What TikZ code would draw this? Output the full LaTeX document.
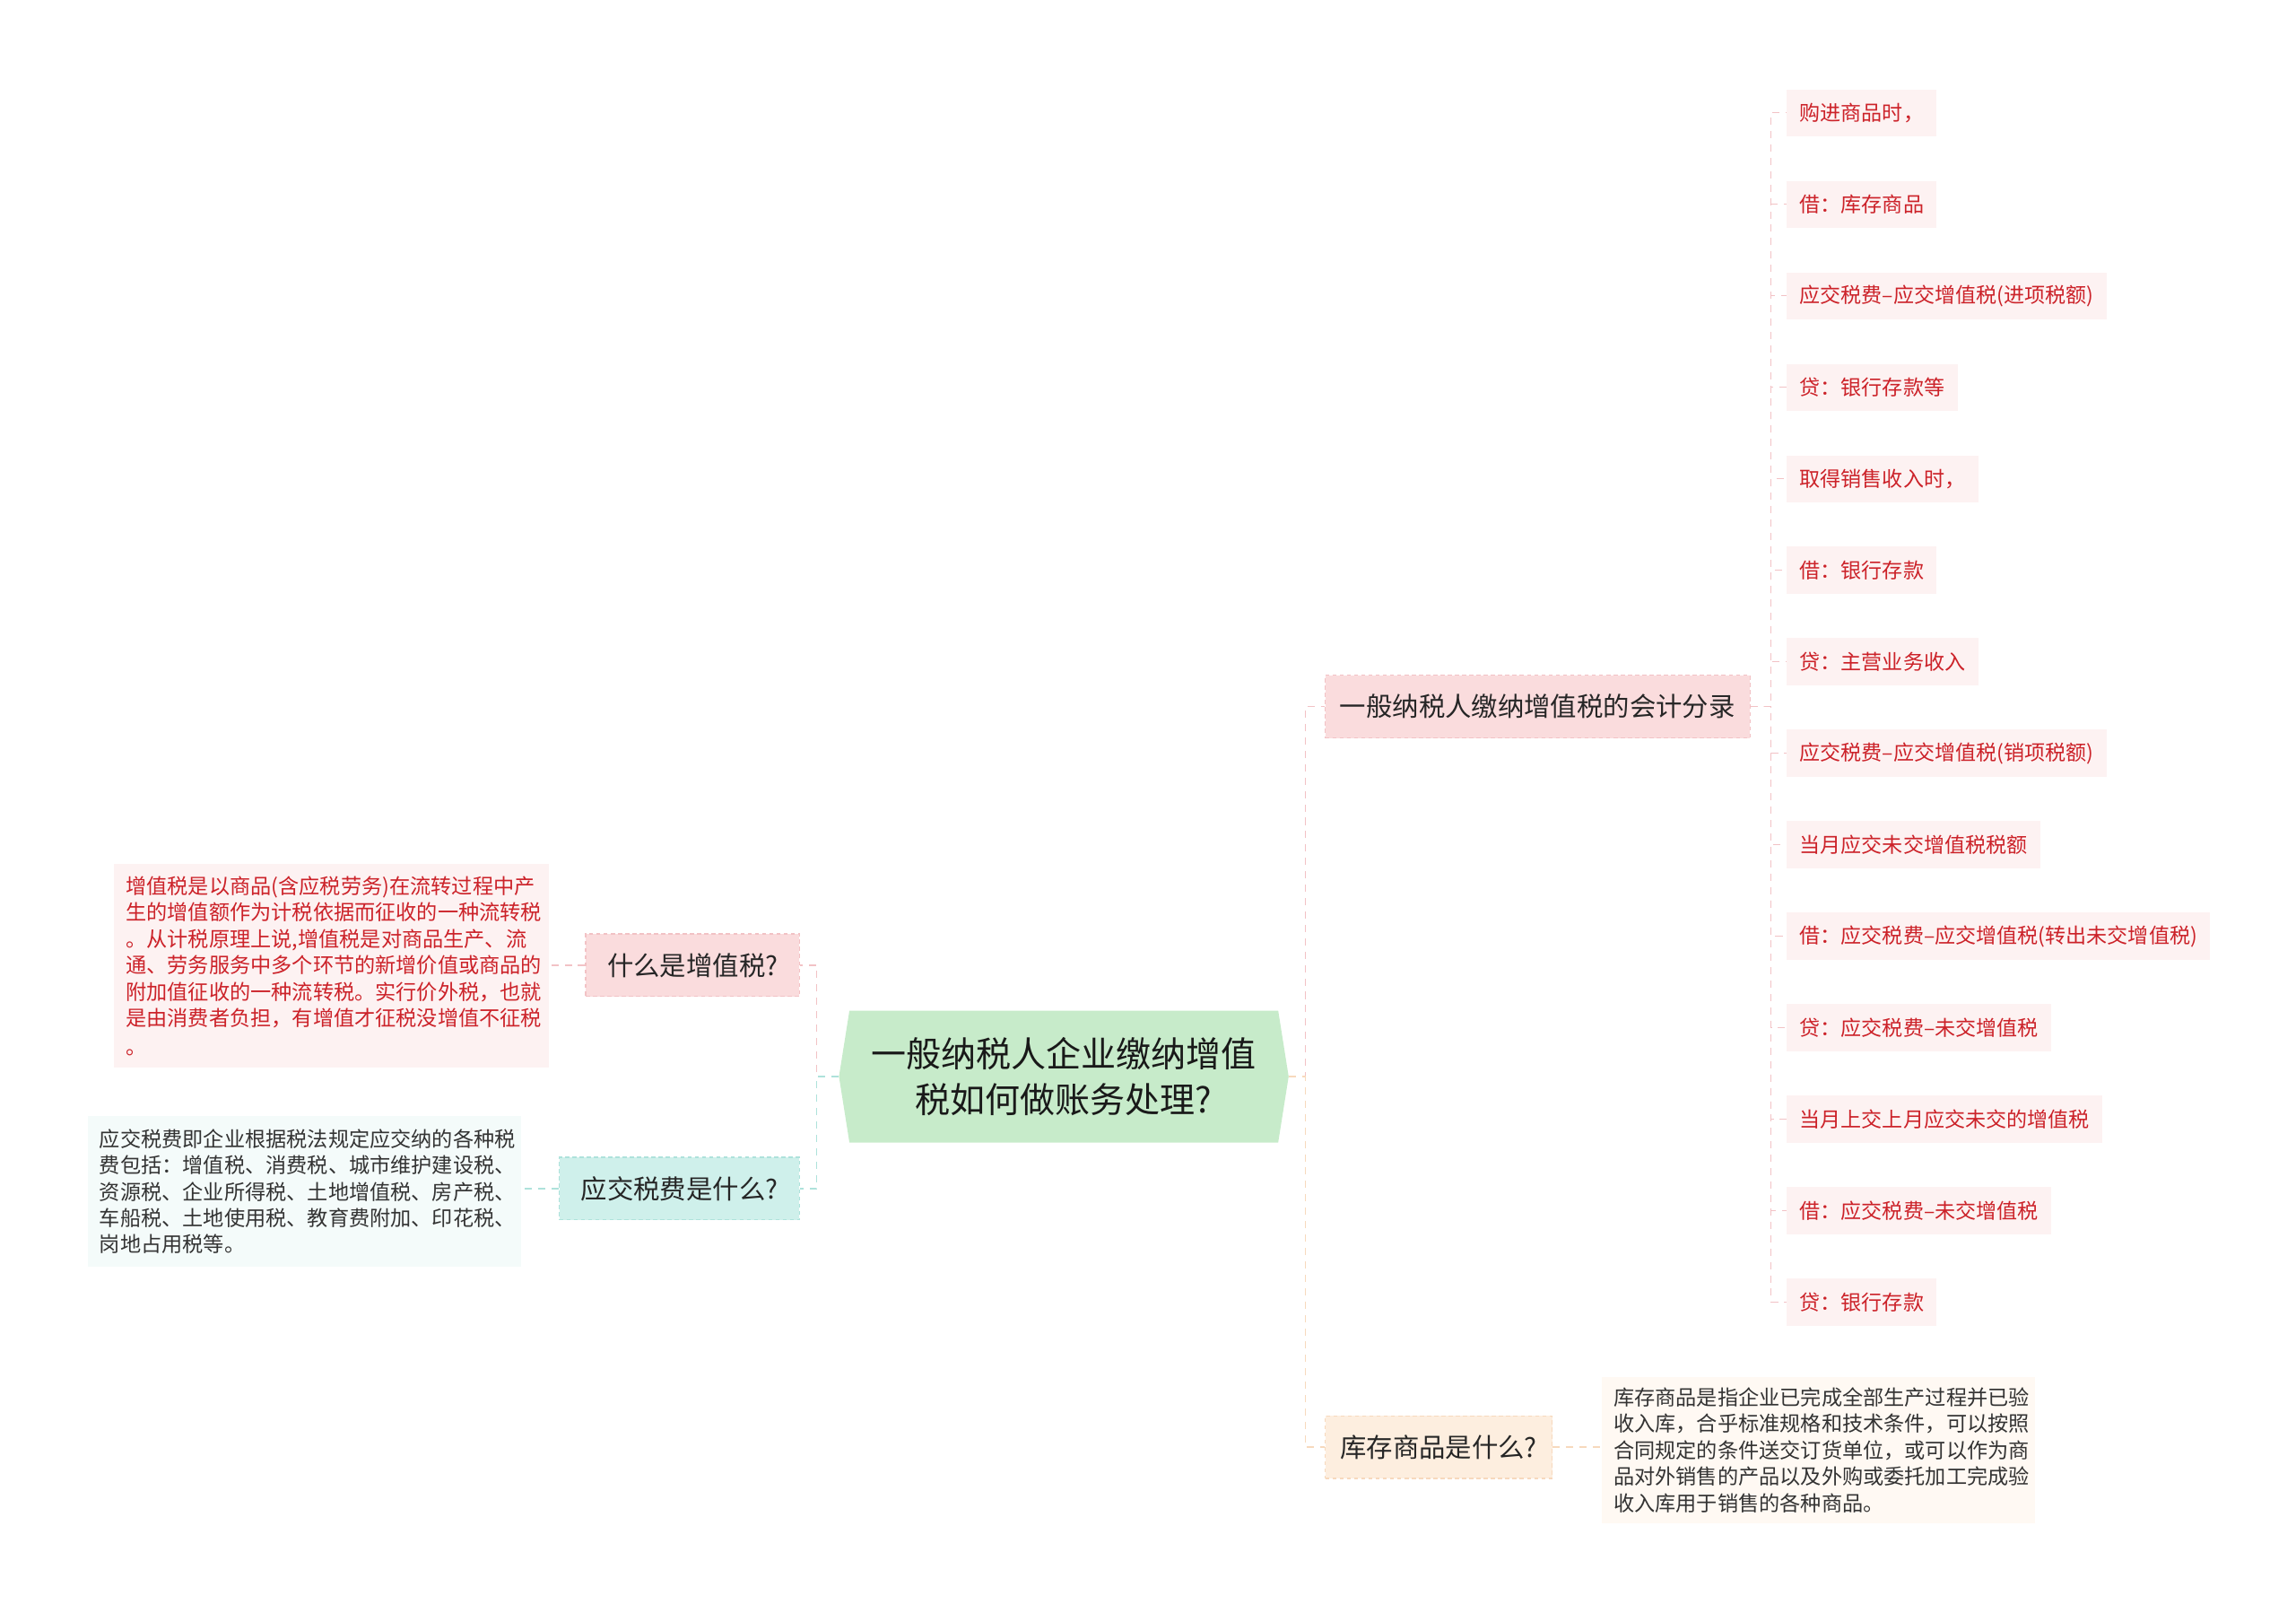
\documentclass[tikz,border=0pt]{standalone}
\usepackage{fontspec}
\setmainfont{Noto Sans CJK SC}
\usepackage{xcolor}
\usepackage{tikz}
\usetikzlibrary{shapes.symbols}

\definecolor{rootgreen}{HTML}{C7EBCA}
\definecolor{pinkfill}{HTML}{FADCDD}
\definecolor{pinkline}{HTML}{F2C2C5}
\definecolor{cyanfill}{HTML}{CFF0EB}
\definecolor{cyanline}{HTML}{AEE2DB}
\definecolor{peachfill}{HTML}{FDEEDF}
\definecolor{peachline}{HTML}{F7D9BD}
\definecolor{leafpink}{HTML}{FDF2F2}
\definecolor{notecyan}{HTML}{F4FBFA}
\definecolor{notepeach}{HTML}{FFF9F3}
\definecolor{taxred}{HTML}{CC2229}
\definecolor{inkgray}{HTML}{333333}

\begin{document}
\begin{tikzpicture}[x=0.025cm, y=-0.025cm,
	rootbox/.style={shape=signal, signal to=west and east, signal pointer angle=162,
		fill=rootgreen, minimum width=7.675cm, minimum height=2.25cm, inner sep=0pt,
		align=center, text=black!90, font=\fontsize{17}{22.5}\selectfont},
	topicbox/.style={fill=#1fill, draw=#1line, dash pattern=on 2pt off 1.5pt, line width=0.5pt,
		minimum height=1.07cm, inner sep=0pt, text=black!85, font=\fontsize{12.8}{15}\selectfont},
	leafbox/.style={fill=leafpink, anchor=west, minimum height=0.8cm, inner xsep=0.22cm,
		inner ysep=0pt, text=taxred, font=\fontsize{10.05}{12}\selectfont},
	notebox/.style={fill=#1, inner sep=0pt, align=left, font=\fontsize{10.1}{12.8}\selectfont},
	link/.style={draw=#1line, dash pattern=on 3.5pt off 3pt, line width=0.6pt}
	]

	\useasboundingbox (0,0) rectangle (1568,1101);

	% centre
	\node[rootbox] (root) at (726.5,735) {一般纳税人企业缴纳增值\\税如何做账务处理?};

	% left side
	\node[topicbox=pink, minimum width=3.65cm] (vat) at (473,659) {什么是增值税?};
	\node[topicbox=cyan, minimum width=4.1cm] (tax) at (464,811.5) {应交税费是什么?};

	\node[notebox=leafpink, text=taxred, minimum width=7.425cm, minimum height=3.475cm] (vatnote) at (226.5,659.5)
		{\parbox{7.025cm}{增值税是以商品(含应税劳务)在流转过程中产\\
		生的增值额作为计税依据而征收的一种流转税\\
		。从计税原理上说,增值税是对商品生产、流\\
		通、劳务服务中多个环节的新增价值或商品的\\
		附加值征收的一种流转税。实行价外税，也就\\
		是由消费者负担，有增值才征税没增值不征税\\[1pt]
		。}};
	\node[notebox=notecyan, text=inkgray, minimum width=7.4cm, minimum height=2.575cm] (taxnote) at (208,813.5)
		{\parbox{7.0cm}{应交税费即企业根据税法规定应交纳的各种税\\
		费包括：增值税、消费税、城市维护建设税、\\
		资源税、企业所得税、土地增值税、房产税、\\
		车船税、土地使用税、教育费附加、印花税、\\
		岗地占用税等。}};

	% right side
	\node[topicbox=pink, minimum width=7.25cm] (entry) at (1050,482.5) {一般纳税人缴纳增值税的会计分录};
	\node[topicbox=peach, minimum width=3.875cm] (stock) at (982.5,988) {库存商品是什么?};

	\node[notebox=notepeach, text=inkgray, minimum width=7.4cm, minimum height=2.5cm] (stocknote) at (1242,990)
		{\parbox{7.0cm}{库存商品是指企业已完成全部生产过程并已验\\
		收入库，合乎标准规格和技术条件，可以按照\\
		合同规定的条件送交订货单位，或可以作为商\\
		品对外销售的产品以及外购或委托加工完成验\\
		收入库用于销售的各种商品。}};

	\foreach \t [count=\i] in {购进商品时，, 借：库存商品, 应交税费–应交增值税(进项税额), 贷：银行存款等,
		取得销售收入时，, 借：银行存款, 贷：主营业务收入, 应交税费–应交增值税(销项税额),
		当月应交未交增值税税额, 借：应交税费–应交增值税(转出未交增值税), 贷：应交税费–未交增值税,
		当月上交上月应交未交的增值税, 借：应交税费–未交增值税, 贷：银行存款}
		\node[leafbox] (leaf\i) at (1220,{77+62.46*(\i-1)}) {\t};

	% connectors
	\draw[link=pink] (root.west) -- ++(-15,0) |- (vat.east);
	\draw[link=cyan] (root.west) -- ++(-15,0) |- (tax.east);
	\draw[link=pink] (vat.west) -- (vat.west -| vatnote.east);
	\draw[link=cyan] (tax.west) -- (tax.west -| taxnote.east);

	\draw[link=pink] (root.east) -- ++(11,0) |- (entry.west);
	\draw[link=peach] (root.east) -- ++(11,0) |- (stock.west);
	\draw[link=peach] (stock.east) -- (stock.east -| stocknote.west);

	\foreach \i in {1,...,14}
		\draw[link=pink] (entry.east) -- ++(14,0) |- (leaf\i.west);

\end{tikzpicture}
\end{document}
